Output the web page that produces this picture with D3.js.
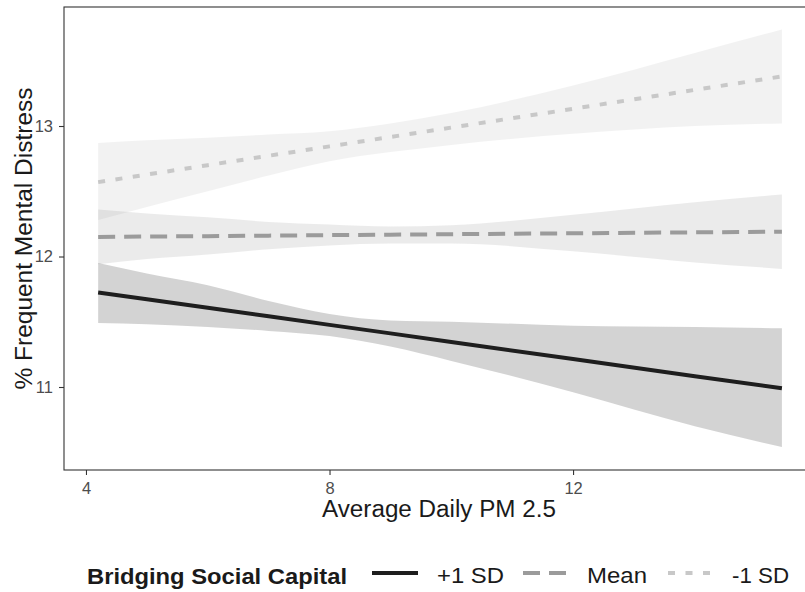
<!DOCTYPE html>
<html>
<head>
<meta charset="utf-8">
<script src="https://cdn.jsdelivr.net/npm/d3@7"></script>
<style>
  html, body { margin: 0; padding: 0; background: #fff; }
  svg { display: block; font-family: "Liberation Sans", Arial, sans-serif; }
</style>
</head>
<body>
<svg id="chart" width="805" height="592"></svg>
<script>
// ---- data ----
const pm = [4.2, 5, 6, 7, 8, 9, 10, 12, 14, 15.43];

const plusFit   = [11.725, 11.673, 11.607, 11.542, 11.476, 11.411, 11.345, 11.214, 11.083, 10.99];
const plusLow   = [11.49, 11.48, 11.46, 11.43, 11.39, 11.31, 11.20, 10.96, 10.70, 10.54];
const plusHigh  = [11.95, 11.87, 11.78, 11.66, 11.56, 11.51, 11.50, 11.47, 11.46, 11.45];

const meanFit   = [12.150, 12.153, 12.156, 12.160, 12.164, 12.167, 12.171, 12.178, 12.185, 12.19];
const meanLow   = [11.94, 11.98, 12.015, 12.055, 12.085, 12.10, 12.10, 12.04, 11.955, 11.905];
const meanHigh  = [12.36, 12.33, 12.30, 12.265, 12.245, 12.23, 12.24, 12.32, 12.415, 12.475];

const minusFit  = [12.57, 12.628, 12.70, 12.772, 12.844, 12.916, 12.988, 13.132, 13.277, 13.38];
const minusLow  = [12.28, 12.38, 12.50, 12.62, 12.73, 12.80, 12.855, 12.94, 13.00, 13.02];
const minusHigh = [12.87, 12.89, 12.91, 12.935, 12.96, 13.02, 13.10, 13.31, 13.56, 13.74];

const xTicks = [4, 8, 12];
const yTicks = [11, 12, 13];
const seriesNames = ["+1 SD", "Mean", "-1 SD"];
const legendTitle = "Bridging Social Capital";
const xTitle = "Average Daily PM 2.5";
const yTitle = "% Frequent Mental Distress";

// ---- layout ----
const svg = d3.select("#chart");
const panel = { left: 64, top: 7, right: 816, bottom: 470 };

const x = d3.scaleLinear().domain([3.639, 15.99]).range([panel.left, panel.right]);
const y = d3.scaleLinear().domain([10.364, 13.912]).range([panel.bottom, panel.top]);

const series = [
  { name: seriesNames[0], fit: plusFit,  low: plusLow,  high: plusHigh,
    line: "#1e1e1e", dash: null, width: 4, fill: "#808080", fo: 0.35 },
  { name: seriesNames[1], fit: meanFit,  low: meanLow,  high: meanHigh,
    line: "#9b9b9b", dash: "17,9", width: 4, fill: "#808080", fo: 0.16 },
  { name: seriesNames[2], fit: minusFit, low: minusLow, high: minusHigh,
    line: "#c8c8c8", dash: "7,10.5", width: 4, fill: "#808080", fo: 0.10 }
];

const area = d3.area()
  .x(d => x(d.x)).y0(d => y(d.lo)).y1(d => y(d.hi))
  .curve(d3.curveMonotoneX);
const line = d3.line().x(d => x(d.x)).y(d => y(d.v));

const plot = svg.append("g");

// ribbons
series.slice().reverse().forEach(s => {
  const pts = pm.map((v, i) => ({ x: v, lo: s.low[i], hi: s.high[i] }));
  plot.append("path").attr("d", area(pts))
    .attr("fill", s.fill).attr("fill-opacity", s.fo).attr("stroke", "none");
});
// lines
series.slice().reverse().forEach(s => {
  const pts = pm.map((v, i) => ({ x: v, v: s.fit[i] }));
  plot.append("path").attr("d", line(pts))
    .attr("fill", "none").attr("stroke", s.line)
    .attr("stroke-width", s.width)
    .attr("stroke-dasharray", s.dash);
});

// panel border
svg.append("rect")
  .attr("x", panel.left).attr("y", panel.top)
  .attr("width", panel.right - panel.left).attr("height", panel.bottom - panel.top)
  .attr("fill", "none").attr("stroke", "#333").attr("stroke-width", 1.1);

// axes
const xAxis = svg.append("g").attr("transform", `translate(0,${panel.bottom})`)
  .call(d3.axisBottom(x).tickValues(xTicks).tickFormat(d3.format("d")).tickSize(5).tickSizeOuter(0).tickPadding(7));
const yAxis = svg.append("g").attr("transform", `translate(${panel.left},0)`)
  .call(d3.axisLeft(y).tickValues(yTicks).tickFormat(d3.format("d")).tickSize(5).tickSizeOuter(0).tickPadding(6));
[xAxis, yAxis].forEach(a => {
  a.select(".domain").remove();
  a.selectAll(".tick line").attr("stroke", "#333").attr("stroke-width", 1.1);
  a.selectAll(".tick text").attr("fill", "#4d4d4d")
    .style("font-family", '"Liberation Sans", Arial, sans-serif').style("font-size", "16.5px");
});

// axis titles
svg.append("text").attr("x", (panel.left + panel.right) / 2 - 1).attr("y", 517)
  .attr("text-anchor", "middle").attr("fill", "#1a1a1a").style("font-size", "23px")
  .attr("textLength", 234).attr("lengthAdjust", "spacingAndGlyphs")
  .text(xTitle);
svg.append("text")
  .attr("transform", `translate(32,${(panel.top + panel.bottom) / 2}) rotate(-90)`)
  .attr("text-anchor", "middle").attr("fill", "#1a1a1a").style("font-size", "23px")
  .attr("textLength", 302).attr("lengthAdjust", "spacingAndGlyphs")
  .text(yTitle);

// legend
const lg = svg.append("g");
lg.append("text").attr("x", 87).attr("y", 584)
  .attr("fill", "#1a1a1a").style("font-size", "22px").style("font-weight", "bold")
  .attr("textLength", 260).attr("lengthAdjust", "spacingAndGlyphs")
  .text(legendTitle);
const keyX = [372, 523, 668];
const keyW = [46, 45, 42];
const labX = [437, 587, 732];
const labW = [67, 60, 57];
series.forEach((s, i) => {
  lg.append("line").attr("x1", keyX[i]).attr("x2", keyX[i] + keyW[i])
    .attr("y1", 573).attr("y2", 573)
    .attr("stroke", s.line).attr("stroke-width", s.width)
    .attr("stroke-dasharray", s.dash);
  lg.append("text").attr("x", labX[i]).attr("y", 583)
    .attr("fill", "#1a1a1a").style("font-size", "21.5px")
    .attr("textLength", labW[i]).attr("lengthAdjust", "spacingAndGlyphs")
    .text(s.name);
});
</script>
</body>
</html>
